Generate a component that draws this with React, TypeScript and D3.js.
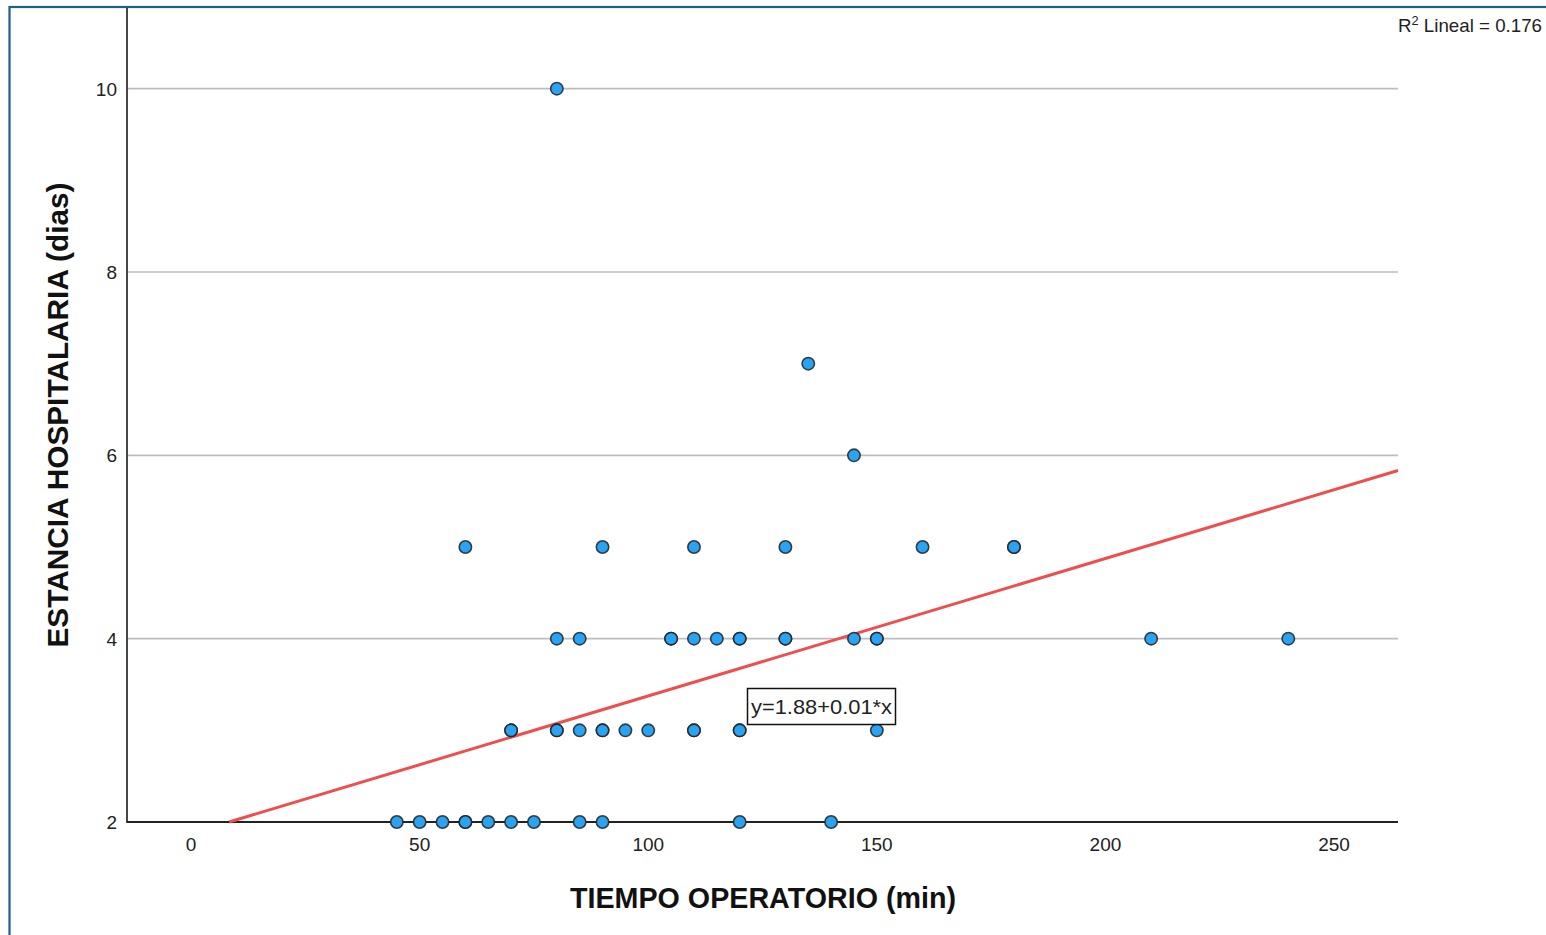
import React from "react";
import * as d3 from "d3";

const xTicks = [0, 50, 100, 150, 200, 250];
const yTicks = [2, 4, 6, 8, 10];
const xDomain: [number, number] = [-13.8, 264];
const yDomain: [number, number] = [2, 10.88];

// [tiempo (min), estancia (dias)]
const points: [number, number][] = [
  [80, 10],
  [135, 7],
  [145, 6],
  [60, 5], [90, 5], [110, 5], [130, 5], [160, 5], [180, 5], [180, 5],
  [80, 4], [85, 4], [105, 4], [105, 4], [110, 4], [115, 4], [120, 4], [120, 4],
  [130, 4], [130, 4], [145, 4], [150, 4], [150, 4], [210, 4], [240, 4],
  [70, 3], [70, 3], [80, 3], [80, 3], [85, 3], [90, 3], [90, 3], [95, 3], [100, 3],
  [110, 3], [110, 3], [120, 3], [120, 3], [150, 3],
  [45, 2], [50, 2], [55, 2], [60, 2], [60, 2], [65, 2], [70, 2], [75, 2], [85, 2],
  [90, 2], [120, 2], [140, 2],
];

const intercept = 1.875;
const slope = 0.015;
const eqLabel = "y=1.88+0.01*x";
const r2Label = "0.176";
const xTitle = "TIEMPO OPERATORIO (min)";
const yTitle = "ESTANCIA HOSPITALARIA (dias)";

export default function App() {
  const W = 1546, H = 935;
  const left = 128, right = 1398, top = 8, bottom = 822;
  const x = d3.scaleLinear().domain(xDomain).range([left, right]);
  const y = d3.scaleLinear().domain(yDomain).range([bottom, top]);
  const x0 = (yDomain[0] - intercept) / slope;
  const lineData: [number, number][] = [
    [x0, intercept + slope * x0],
    [xDomain[1], intercept + slope * xDomain[1]],
  ];
  const line = d3.line<[number, number]>().x((d) => x(d[0])).y((d) => y(d[1]));
  const font = "'Liberation Sans', Arial, sans-serif";

  return (
    <svg
      width={W}
      height={H}
      style={{ position: "absolute", left: 0, top: 0, background: "#fff" }}
      fontFamily={font}
    >
      <rect x={0} y={0} width={W} height={H} fill="#fff" />
      <rect x={9.5} y={7} width={W + 50} height={H + 50} fill="none" stroke="#1f5f8b" strokeWidth={2.2} />
      {/* gridlines */}
      {yTicks.filter((t) => t !== yDomain[0]).map((t) => (
        <line key={t} x1={left} x2={right} y1={y(t)} y2={y(t)} stroke="#bdbdbd" strokeWidth={1.6} />
      ))}
      {/* axes */}
      <line x1={left - 1} x2={left - 1} y1={top} y2={bottom + 1} stroke="#333" strokeWidth={1.8} />
      <line x1={left - 1} x2={right} y1={bottom} y2={bottom} stroke="#222" strokeWidth={1.8} />
      {/* y tick labels */}
      {yTicks.map((t) => (
        <text key={t} x={117} y={y(t) + 7} textAnchor="end" fontSize={19} fill="#222">
          {t}
        </text>
      ))}
      {/* x tick labels */}
      {xTicks.map((t) => (
        <text key={t} x={x(t)} y={851} textAnchor="middle" fontSize={19} fill="#222">
          {t}
        </text>
      ))}
      {/* regression line */}
      <path d={line(lineData) || ""} stroke="#ec4f50" strokeWidth={3} fill="none" />
      {/* points */}
      {points.map((p, i) => (
        <circle key={i} cx={x(p[0])} cy={y(p[1])} r={6.2} fill="#2aa3f2" stroke="#222" strokeWidth={1.6} strokeOpacity={0.85} />
      ))}
      {/* equation label */}
      <rect x={747.5} y={688.5} width={148} height={36} fill="#fff" stroke="#111" strokeWidth={1.5} />
      <text x={751} y={714} fontSize={21} fill="#222" textLength={141} lengthAdjust="spacingAndGlyphs">{eqLabel}</text>
      {/* R2 label */}
      <text x={1398} y={32} fontSize={19} fill="#222" textLength={144} lengthAdjust="spacingAndGlyphs">
        R<tspan dy={-7} fontSize={13}>2</tspan>
        <tspan dy={7}> Lineal = {r2Label}</tspan>
      </text>
      {/* axis titles */}
      <text x={763} y={908} textAnchor="middle" fontSize={29} fontWeight="bold" fill="#111" textLength={386} lengthAdjust="spacingAndGlyphs">
        {xTitle}
      </text>
      <text
        transform={`translate(68, 415) rotate(-90)`}
        textAnchor="middle"
        fontSize={29}
        fontWeight="bold"
        fill="#111"
        textLength={465}
        lengthAdjust="spacingAndGlyphs"
      >
        {yTitle}
      </text>
    </svg>
  );
}
